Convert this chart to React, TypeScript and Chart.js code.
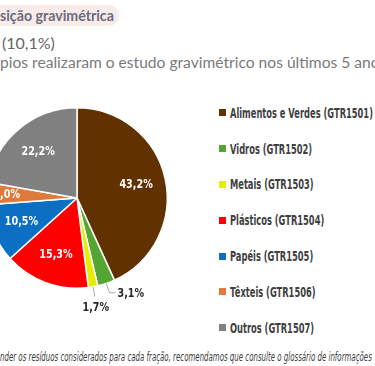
import React, { useEffect, useLayoutEffect, useRef, useState } from "react";
import { Chart, registerables } from "chart.js";
Chart.register(...registerables);

const categories = [
  "Alimentos e Verdes (GTR1501)",
  "Vidros (GTR1502)",
  "Metais (GTR1503)",
  "Plásticos (GTR1504)",
  "Papéis (GTR1505)",
  "Têxteis (GTR1506)",
  "Outros (GTR1507)",
];
const values = [43.2, 3.1, 1.7, 15.3, 10.5, 4.0, 22.2];
const valueLabels = ["43,2%", "3,1%", "1,7%", "15,3%", "10,5%", "4,0%", "22,2%"];
const colors = ["#613200", "#55a535", "#e6ee00", "#ff0000", "#0b6fc4", "#df7b3a", "#808080"];
const outsideLabels = [false, true, true, false, false, false, false];

const titleText = "sição gravimétrica";
const subTitle = "(10,1%)";
const subText = "pios realizaram o estudo gravimétrico nos últimos 5 anos";
const footText =
  "nder os resíduos considerados para cada fração, recomendamos que consulte o glossário de informações";

const condensed = 0.8;

const labelPlugin = {
  id: "sliceLabels",
  afterDatasetsDraw(chart: any) {
    const ctx = chart.ctx;
    const meta = chart.getDatasetMeta(0);
    meta.data.forEach((arc: any, i: number) => {
      const { x, y, startAngle, endAngle, outerRadius } = arc.getProps(
        ["x", "y", "startAngle", "endAngle", "outerRadius"],
        true
      );
      const mid = (startAngle + endAngle) / 2;
      const cos = Math.cos(mid);
      const sin = Math.sin(mid);
      const drawText = (t: string, tx: number, ty: number, align: string, color: string) => {
        ctx.save();
        ctx.translate(tx, ty);
        ctx.scale(condensed, 1);
        ctx.font = "bold 12px 'DejaVu Sans', sans-serif";
        ctx.textAlign = align;
        ctx.textBaseline = "middle";
        ctx.fillStyle = color;
        ctx.fillText(t, 0, 0);
        ctx.restore();
      };
      if (outsideLabels[i]) {
        const r0 = outerRadius;
        const r1 = outerRadius + 10;
        const sx = x + cos * r0;
        const sy = y + sin * r0;
        const ex = x + cos * r1;
        const ey = y + sin * r1;
        ctx.save();
        ctx.strokeStyle = "#a6a6a6";
        ctx.lineWidth = 1;
        ctx.beginPath();
        ctx.moveTo(sx, sy);
        ctx.lineTo(ex, ey);
        if (i === 1) ctx.lineTo(ex + 6, ey);
        ctx.stroke();
        ctx.restore();
        if (i === 1) {
          drawText(valueLabels[i], ex + 8, ey + 1, "left", "#262626");
        } else {
          drawText(valueLabels[i], ex + 1, ey + 11, "center", "#262626");
        }
      } else {
        const r = outerRadius * (i === 5 ? 0.78 : 0.67);
        drawText(valueLabels[i], x + cos * r, y + sin * r, "center", "#ffffff");
      }
    });
  },
};

function FitText(props: { text: string; target: number; style: any }) {
  const ref = useRef<HTMLSpanElement>(null);
  const [scale, setScale] = useState(1);
  useLayoutEffect(() => {
    if (ref.current) {
      const w = ref.current.offsetWidth;
      if (w > 0) setScale(props.target / w);
    }
  }, [props.target, props.text]);
  return (
    <span
      ref={ref}
      style={{
        ...props.style,
        display: "inline-block",
        whiteSpace: "nowrap",
        transform: `scaleX(${scale})`,
        transformOrigin: "left center",
      }}
    >
      {props.text}
    </span>
  );
}

function PieChart() {
  const ref = useRef<HTMLCanvasElement>(null);
  useEffect(() => {
    if (!ref.current) return;
    const chart = new Chart(ref.current, {
      type: "pie",
      data: {
        labels: categories,
        datasets: [
          {
            data: values,
            backgroundColor: colors,
            borderColor: "#ffffff",
            borderWidth: 1.5,
          },
        ],
      },
      options: {
        animation: false,
        responsive: false,
        maintainAspectRatio: false,
        layout: { padding: 29 },
        plugins: {
          legend: { display: false },
          tooltip: { enabled: false },
        },
      },
      plugins: [labelPlugin],
    });
    return () => chart.destroy();
  }, []);
  return (
    <canvas
      ref={ref}
      width={240}
      height={240}
      style={{ position: "absolute", left: 77 - 120, top: 198 - 120, width: 240, height: 240 }}
    />
  );
}

const legendFont = {
  fontFamily: "'DejaVu Sans', sans-serif",
  fontWeight: 700,
  fontSize: 14,
  color: "#404040",
  lineHeight: "18px",
};

export default function App() {
  useEffect(() => {
    document.body.style.margin = "0";
  }, []);
  const [legendScale, setLegendScale] = useState(1);
  const measureRef = useRef<HTMLSpanElement>(null);
  useLayoutEffect(() => {
    if (measureRef.current) {
      const w = measureRef.current.offsetWidth;
      if (w > 0) setLegendScale(143 / w);
    }
  }, []);
  return (
    <div
      style={{
        position: "fixed",
        left: 0,
        top: 0,
        width: 375,
        height: 366,
        overflow: "hidden",
        background: "#ffffff",
        fontFamily: "'Open Sans', sans-serif",
      }}
    >
      <div
        style={{
          position: "absolute",
          left: -14,
          top: 5,
          height: 21,
          width: 133,
          background: "#f7ecea",
          borderRadius: 10,
        }}
      />
      <div
        style={{
          position: "absolute",
          left: 0,
          top: 7,
          fontFamily: "Lato, sans-serif",
          fontWeight: 700,
          fontSize: 14.2,
          color: "#6d6b7d",
          whiteSpace: "nowrap",
          lineHeight: "17px",
        }}
      >
        {titleText}
      </div>
      <div
        style={{
          position: "absolute",
          left: 2,
          top: 33,
          fontFamily: "Lato, sans-serif",
          fontSize: 16,
          color: "#666666",
          whiteSpace: "nowrap",
          lineHeight: "20px",
        }}
      >
        {subTitle}
      </div>
      <div
        style={{
          position: "absolute",
          left: 0,
          top: 53,
          fontFamily: "Lato, sans-serif",
          fontSize: 15.6,
          color: "#7a7a7a",
          whiteSpace: "nowrap",
          lineHeight: "18px",
        }}
      >
        {subText}
      </div>
      <PieChart />
      <span
        ref={measureRef}
        style={{ ...legendFont, position: "absolute", left: 0, top: -100, whiteSpace: "nowrap" }}
      >
        {categories[0]}
      </span>
      <div style={{ position: "absolute", left: 219, top: 95 }}>
        {categories.map((c, i) => (
          <div
            key={c}
            style={{
              display: "flex",
              alignItems: "center",
              height: 35.8,
              whiteSpace: "nowrap",
            }}
          >
            <span
              style={{
                display: "inline-block",
                width: 7,
                height: 7,
                background: colors[i],
                marginRight: 4,
                flex: "none",
              }}
            />
            <span
              style={{
                ...legendFont,
                display: "inline-block",
                transform: `scaleX(${legendScale})`,
                transformOrigin: "left center",
              }}
            >
              {c}
            </span>
          </div>
        ))}
      </div>
      <div style={{ position: "absolute", left: 0, top: 344 }}>
        <FitText
          text={footText}
          target={372}
          style={{
            fontFamily: "'DejaVu Sans', sans-serif",
            fontStyle: "italic",
            fontSize: 12,
            color: "#404040",
            lineHeight: "15px",
          }}
        />
      </div>
    </div>
  );
}
